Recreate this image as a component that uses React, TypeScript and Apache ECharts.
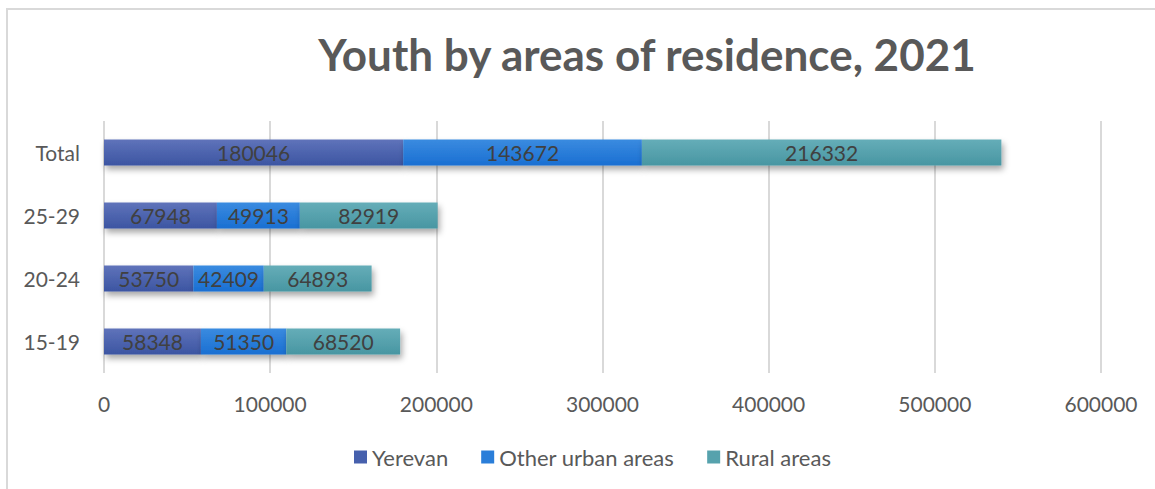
import React, { useEffect, useRef } from "react";
import * as echarts from "echarts";

const categories = ["15-19", "20-24", "25-29", "Total"];
const yerevan = [58348, 53750, 67948, 180046];
const otherUrban = [51350, 42409, 49913, 143672];
const rural = [68520, 64893, 82919, 216332];
const seriesNames = ["Yerevan", "Other urban areas", "Rural areas"];
const xTicks = { min: 0, max: 600000, interval: 100000 };
const titleText = "Youth by areas of residence, 2021";

const FONT = "Lato, 'Noto Sans', sans-serif";

function grad(top: string, bottom: string) {
  return new echarts.graphic.LinearGradient(0, 0, 0, 1, [
    { offset: 0, color: top },
    { offset: 1, color: bottom },
  ]);
}

export default function App() {
  const ref = useRef<HTMLDivElement>(null);
  useEffect(() => {
    document.body.style.margin = "0";
    const chart = echarts.init(ref.current!, null, { renderer: "svg" });
    const colors = [
      grad("#5f73ba", "#3c55a2"),
      grad("#3a8be0", "#1a6fd2"),
      grad("#65adb8", "#4896a2"),
    ];
    const flatColors = ["#4660ad", "#2a7ed9", "#56a2ad"];
    const datasets = [yerevan, otherUrban, rural];
    chart.setOption({
      animation: false,
      backgroundColor: "#ffffff",
      textStyle: { fontFamily: FONT },
      graphic: [
        {
          type: "rect",
          z: -10,
          shape: { x: 7, y: 9, width: 1300, height: 600 },
          style: { fill: "none", stroke: "#d9d9d9", lineWidth: 2 },
          silent: true,
        },
        {
          type: "text",
          x: 647,
          y: 54,
          style: {
            text: titleText,
            fontFamily: FONT,
            fontSize: 44,
            fontWeight: "bold",
            fill: "#595959",
            textAlign: "center",
            textVerticalAlign: "middle",
          },
        },
      ],
      legend: {
        left: 349,
        top: 441,
        itemWidth: 13,
        itemHeight: 13,
        itemGap: 33,
        icon: "rect",
        data: seriesNames.map((n, i) => ({ name: n, itemStyle: { color: flatColors[i] } })),
        textStyle: { fontFamily: FONT, fontSize: 22, color: "#595959" },
      },
      grid: { left: 104, right: 54, top: 121, bottom: 116, containLabel: false },
      xAxis: {
        type: "value",
        min: xTicks.min,
        max: xTicks.max,
        interval: xTicks.interval,
        axisLine: { show: false },
        axisTick: { show: false },
        splitLine: { show: true, lineStyle: { color: "#d9d9d9", width: 2 } },
        axisLabel: {
          fontFamily: FONT,
          fontSize: 21,
          color: "#595959",
          margin: 20,
          formatter: (v: number) => String(v),
        },
      },
      yAxis: {
        type: "category",
        data: categories,
        axisLine: { show: false },
        axisTick: { show: false },
        axisLabel: { fontFamily: FONT, fontSize: 21, color: "#595959", margin: 24 },
      },
      series: seriesNames.map((name, i) => ({
        name,
        type: "bar",
        stack: "total",
        barWidth: 26,
        data: datasets[i],
        itemStyle: {
          color: colors[i],
          shadowBlur: 6,
          shadowOffsetX: 2,
          shadowOffsetY: 4,
          shadowColor: "rgba(0,0,0,0.35)",
        },
        label: {
          show: true,
          position: "inside",
          fontFamily: FONT,
          fontSize: 21,
          color: "#404040",
        },
      })),
    });
    return () => chart.dispose();
  }, []);
  return <div ref={ref} style={{ width: 1155, height: 489 }} />;
}
